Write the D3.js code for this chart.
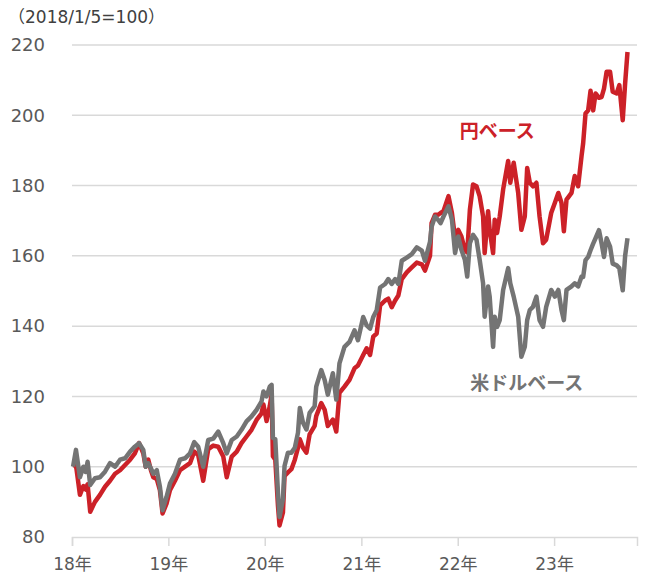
<!DOCTYPE html>
<html>
<head>
<meta charset="utf-8">
<script src="https://cdn.jsdelivr.net/npm/d3@7"></script>
<style>
  html, body { margin: 0; padding: 0; background: #fff; }
  svg { display: block; }
  text { font-family: "DejaVu Sans", "Noto Sans CJK JP", sans-serif; }
</style>
</head>
<body>
<svg id="chart" width="645" height="580"></svg>
<script>
// readings, index 2018/1/5 = 100
const dates = [
  "2018-01-05","2018-01-16","2018-01-31","2018-02-13","2018-02-22","2018-03-01","2018-03-11","2018-03-29",
  "2018-04-17","2018-05-06","2018-05-25","2018-06-13","2018-07-02","2018-07-21","2018-08-09","2018-08-27",
  "2018-09-12","2018-09-28","2018-10-07","2018-10-17","2018-10-27","2018-11-05","2018-11-18","2018-11-30",
  "2018-12-10","2018-12-25","2019-01-07","2019-01-26","2019-02-14","2019-03-05","2019-03-24","2019-04-09",
  "2019-04-24","2019-05-13","2019-06-01","2019-06-20","2019-07-09","2019-07-28","2019-08-10","2019-08-29",
  "2019-09-17","2019-10-05","2019-10-24","2019-11-12","2019-12-01","2019-12-20","2019-12-27","2020-01-08",
  "2020-01-20","2020-01-27","2020-02-01","2020-02-10","2020-02-20","2020-02-26","2020-03-10","2020-03-16",
  "2020-03-29","2020-04-11","2020-04-24","2020-05-06","2020-05-13","2020-05-25","2020-06-07","2020-06-19",
  "2020-07-08","2020-07-14","2020-08-02","2020-08-15","2020-08-27","2020-09-15","2020-09-28","2020-10-10",
  "2020-10-29","2020-11-17","2020-12-06","2020-12-19","2021-01-08","2021-01-21","2021-02-03","2021-02-15",
  "2021-02-28","2021-03-13","2021-04-01","2021-04-13","2021-04-26","2021-05-09","2021-05-21","2021-06-03",
  "2021-06-22","2021-07-11","2021-07-30","2021-08-18","2021-08-30","2021-09-18","2021-09-24","2021-10-07",
  "2021-10-19","2021-10-28","2021-11-08","2021-11-27","2021-12-10","2021-12-22","2022-01-03","2022-01-15",
  "2022-01-28","2022-02-06","2022-02-16","2022-02-28","2022-03-13","2022-03-25","2022-04-07","2022-04-13",
  "2022-04-26","2022-05-02","2022-05-15","2022-05-21","2022-05-30","2022-06-09","2022-06-22","2022-07-11",
  "2022-07-19","2022-08-01","2022-08-18","2022-08-30","2022-09-12","2022-09-21","2022-10-01","2022-10-13",
  "2022-10-26","2022-11-07","2022-11-20","2022-12-02","2022-12-21","2023-01-04","2023-01-17","2023-01-29",
  "2023-02-07","2023-02-17","2023-03-08","2023-03-20","2023-04-02","2023-04-15","2023-04-21","2023-04-30",
  "2023-05-10","2023-05-19","2023-05-29","2023-06-07","2023-06-20","2023-06-30","2023-07-09","2023-07-19",
  "2023-08-01","2023-08-11","2023-08-26","2023-09-05","2023-09-18","2023-09-27","2023-10-06"
];

// 円ベース
const yenBase = [
  100,100.5,92,94.5,93.5,95,87.2,90,
  92,94.3,96,98,99,100.5,102,103.8,
  106.7,103.8,100,102,99,97,96.5,93.3,
  86.7,89.5,93.3,96,99,100,101,104.3,
  103.3,96,105,106,105.7,102.9,97,102.9,
  104.3,106.7,108.6,110.5,113.3,115.2,117.7,113,
  117.2,120.5,103,102,89,83.3,87,97.4,
  98.4,99.3,102,105.4,107.8,105.4,104,109.2,
  111.6,114.4,118.1,116.2,111.6,113.4,110,121,
  122.8,124.7,128,128.8,131.8,133.7,131.8,137,
  137.9,145.9,147.3,147.8,145.4,147.3,148.7,153.4,
  155.3,156.7,158.1,157.6,155.8,160,169.3,171.7,
  171.7,172.2,172.7,177,172.2,165,167.4,165.5,
  161.7,161,173.1,180.3,179.8,177,171.2,160.8,
  172.7,167.4,160.8,170.3,166.5,171.2,178.9,187,
  180.8,186.5,177.9,167.4,171.2,185,180.8,179.8,
  180.8,171.2,163.6,164.6,172.2,175.1,177.9,175.1,
  167,176,177.9,182.7,179.8,188.4,192,200.5,
  201.4,207,201.4,206.2,205,205.2,207.6,212.4,
  212.4,206.7,206.2,208.6,198.6,209,218
];

// 米ドルベース
const usdBase = [
  100,104.8,97,100,98.5,101.4,94.8,96.7,
  97,98.6,101,100,102,102.4,104.3,105.7,
  106.7,104.8,100,101,99.5,98,99,94.3,
  87.6,91.4,95.2,98,102,102.4,103.8,107,
  105.7,100,107.6,108,110,106.7,103.8,107.6,
  108.6,110.5,112.9,114.3,116.2,118.6,121.4,120,
  122.8,123.3,108.2,107.8,92.7,85.7,90.8,100.2,
  104,104,105.4,109.7,116.7,112.5,110.6,115.3,
  117.2,122.8,127.5,124.7,120.5,126.6,119.1,129.4,
  134.1,135.5,138.8,136,142.6,140.2,139.3,142.6,
  144.5,151,152,153.4,152,153.4,152,158.6,
  159.5,160.5,162.4,161.5,158.6,164,168.3,171.2,
  170.2,169.3,171.2,174.1,170.3,160.8,165.5,161.7,
  158.9,154.1,163.6,166,164.6,158.9,152.2,142.7,
  151.3,148.4,134.1,142.7,139.8,141.7,150.3,156.5,
  152.2,148.4,142.7,131.3,134.1,141.7,144.6,145.5,
  148.4,141.7,139.8,145.5,150.3,148.4,150.3,144.6,
  141.7,150.3,151.3,152.2,151.3,154.1,154,158.8,
  159.7,161.6,163.5,165,167.3,163.5,159.7,165,
  162.6,157.8,157.3,156.5,150.2,160,165
];

const yTicks = [80, 100, 120, 140, 160, 180, 200, 220];
const xTickYears = [2018, 2019, 2020, 2021, 2022, 2023];
const xTickLabels = ["18年", "19年", "20年", "21年", "22年", "23年"];

const margin = { top: 45, right: 8, bottom: 43, left: 72 };
const width = 645, height = 580;
const innerW = width - margin.left - margin.right;
const innerH = height - margin.top - margin.bottom;

const parse = d3.timeParse("%Y-%m-%d");
const rows = dates.map((d, i) => ({ date: parse(d), yen: yenBase[i], usd: usdBase[i] }));

const x = d3.scaleTime()
  .domain([new Date(2018, 0, 1), new Date(2023, 10, 11)])
  .range([0, innerW]);
const y = d3.scaleLinear().domain([80, 220]).range([innerH, 0]);

const svg = d3.select("#chart");
const g = svg.append("g").attr("transform", `translate(${margin.left},${margin.top})`);

// horizontal grid
g.append("g")
  .selectAll("line")
  .data(yTicks.filter((v) => v > 80))
  .join("line")
  .attr("x1", 0).attr("x2", innerW)
  .attr("y1", (d) => y(d)).attr("y2", (d) => y(d))
  .attr("stroke", "#d9d9d9").attr("stroke-width", 1.5);

// y labels
g.append("g")
  .selectAll("text")
  .data(yTicks)
  .join("text")
  .attr("x", -27).attr("y", (d) => y(d))
  .attr("dy", "0.35em")
  .attr("text-anchor", "end")
  .attr("font-size", 18)
  .attr("fill", "#595959")
  .text((d) => d);

// x axis
const xAxis = d3.axisBottom(x)
  .tickValues(xTickYears.map((yr) => new Date(yr, 0, 1)))
  .tickFormat((d, i) => xTickLabels[i])
  .tickSize(9)
  .tickPadding(12);
const ax = g.append("g").attr("transform", `translate(0,${innerH})`).call(xAxis);
ax.select(".domain").attr("stroke", "#d9d9d9").attr("stroke-width", 1.5);
ax.selectAll(".tick line").attr("stroke", "#d9d9d9").attr("stroke-width", 1.5);
ax.selectAll(".tick text")
  .attr("font-size", 17)
  .attr("fill", "#595959")
  .style("font-family", '"DejaVu Sans", "Noto Sans CJK JP", sans-serif');

// lines
const line = (key) => d3.line().x((d) => x(d.date)).y((d) => y(d[key]));
g.append("path").datum(rows)
  .attr("fill", "none").attr("stroke", "#cc2128").attr("stroke-width", 4.5)
  .attr("stroke-linejoin", "round").attr("d", line("yen"));
g.append("path").datum(rows)
  .attr("fill", "none").attr("stroke", "#747474").attr("stroke-width", 4.5)
  .attr("stroke-linejoin", "round").attr("d", line("usd"));

// series labels
g.append("text")
  .attr("x", x(new Date(2022, 0, 1)) + 2).attr("y", y(195.5))
  .attr("dy", "0.35em")
  .attr("font-size", 19).attr("font-weight", "bold").attr("fill", "#cc2128")
  .text("円ベース");
g.append("text")
  .attr("x", x(new Date(2022, 1, 17))).attr("y", y(123.8))
  .attr("dy", "0.35em")
  .attr("font-size", 19).attr("font-weight", "bold").attr("fill", "#747474")
  .text("米ドルベース");

// unit note
svg.append("text")
  .attr("x", 8).attr("y", 17)
  .attr("dy", "0.35em")
  .attr("font-size", 17).attr("fill", "#404040")
  .text("（2018/1/5=100）");
</script>
</body>
</html>
